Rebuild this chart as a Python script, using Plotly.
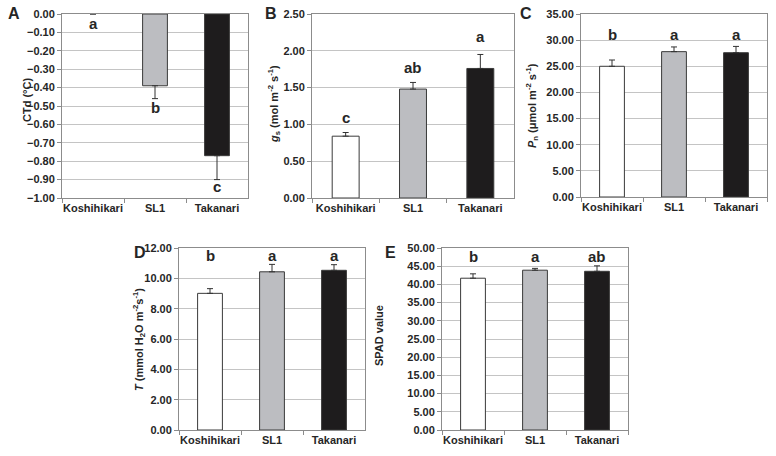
import plotly.graph_objects as go

W, H = 776, 456
categories = ["Koshihikari", "SL1", "Takanari"]
bar_colors = ["#ffffff", "#bcbdc1", "#1e1c1d"]

# Panel A: CTd
ctd_values = [0.0, -0.39, -0.77]
ctd_err = [0.0, 0.07, 0.13]
ctd_letters = ["a", "b", "c"]
ctd_letter_y = [-0.05, -0.51, -0.94]

# Panel B: gs
gs_values = [0.84, 1.48, 1.76]
gs_err = [0.05, 0.09, 0.19]
gs_letters = ["c", "ab", "a"]
gs_letter_y = [1.10, 1.77, 2.19]

# Panel C: Pn
pn_values = [25.0, 27.8, 27.6]
pn_err = [1.2, 0.9, 1.2]
pn_letters = ["b", "a", "a"]
pn_letter_y = [31.1, 31.1, 31.1]

# Panel D: T
t_values = [9.01, 10.43, 10.53]
t_err = [0.31, 0.49, 0.37]
t_letters = ["b", "a", "a"]
t_letter_y = [11.5, 11.5, 11.5]

# Panel E: SPAD
spad_values = [41.7, 43.9, 43.6]
spad_err = [1.2, 0.5, 1.5]
spad_letters = ["b", "a", "ab"]
spad_letter_y = [47.8, 47.8, 47.8]

FONT = "Liberation Sans, Arial, sans-serif"
TXT = "#262626"

panels = [
    dict(v=ctd_values, e=ctd_err, L=ctd_letters, ly=ctd_letter_y, rng=[-1.0, 0.0], dt=0.1,
         box=(62, 248, 14, 198), neg=True, tag="A", tagpos=(14, 14),
         title="CTd (°C)", tpos=(27, 100)),
    dict(v=gs_values, e=gs_err, L=gs_letters, ly=gs_letter_y, rng=[0, 2.5], dt=0.5,
         box=(312, 514, 14, 198), neg=False, tag="B", tagpos=(271, 14),
         title="<i>g</i><sub>s</sub> (mol m<sup>-2</sup> s<sup>-1</sup>)", tpos=(274, 104)),
    dict(v=pn_values, e=pn_err, L=pn_letters, ly=pn_letter_y, rng=[0, 35], dt=5,
         box=(581, 767, 14, 197), neg=False, tag="C", tagpos=(526, 14),
         title="<i>P</i><sub>n</sub> (μmol m<sup>-2</sup> s<sup>-1</sup>)", tpos=(532, 106)),
    dict(v=t_values, e=t_err, L=t_letters, ly=t_letter_y, rng=[0, 12], dt=2,
         box=(179, 365, 248, 430), neg=False, tag="D", tagpos=(140, 252),
         title="<i>T</i> (mmol H<sub>2</sub>O m<sup>-2</sup>s<sup>-1</sup>)", tpos=(139, 340)),
    dict(v=spad_values, e=spad_err, L=spad_letters, ly=spad_letter_y, rng=[0, 50], dt=5,
         box=(442, 628, 248, 430), neg=False, tag="E", tagpos=(390, 252),
         title="SPAD value", tpos=(379, 336)),
]


def px(x):
    return x / W


def py(y):
    return 1 - y / H


fig = go.Figure()
annotations = []
layout = {}

for i, p in enumerate(panels, start=1):
    sx = "" if i == 1 else str(i)
    xa, ya = "x" + sx, "y" + sx
    x0, x1, yt, yb = p["box"]
    if p["neg"]:
        err = dict(type="data", symmetric=False, array=[0, 0, 0], arrayminus=p["e"],
                   color="#333333", thickness=1, width=3)
        line_w = [0 if v == 0 else 1 for v in p["v"]]
    else:
        err = dict(type="data", symmetric=False, array=p["e"], arrayminus=[0, 0, 0],
                   color="#333333", thickness=1, width=3)
        line_w = [1, 1, 1]
    fig.add_trace(go.Bar(
        x=categories, y=p["v"], xaxis=xa, yaxis=ya, width=0.4,
        marker=dict(color=bar_colors, line=dict(color="#3a3a3a", width=line_w)),
        error_y=err, showlegend=False, hoverinfo="skip",
    ))
    layout["xaxis" + sx] = dict(
        domain=[px(x0), px(x1)], anchor=ya, type="category", automargin=False,
        showline=True, linecolor="#8c8c8c", linewidth=1, mirror=True,
        ticks="outside", ticklen=4, tickcolor="#8c8c8c", tickson="boundaries",
        tickangle=0,
        tickfont=dict(family=FONT, size=11, color=TXT, weight="bold"),
        showgrid=False, fixedrange=True,
    )
    layout["yaxis" + sx] = dict(
        domain=[py(yb), py(yt)], anchor=xa, range=p["rng"], automargin=False,
        dtick=p["dt"], tick0=0, tickformat=".2f", ticklabeloverflow="allow",
        showline=True, linecolor="#8c8c8c", linewidth=1, mirror=True,
        ticks="outside", ticklen=4, tickcolor="#8c8c8c",
        showgrid=True, gridcolor="#c4c4c4", gridwidth=1, zeroline=False,
        tickfont=dict(family=FONT, size=11, color=TXT, weight="bold"),
        fixedrange=True,
    )
    for c, lt, ly in zip(categories, p["L"], p["ly"]):
        annotations.append(dict(x=c, y=ly, xref=xa, yref=ya, text=lt, showarrow=False,
                                font=dict(family=FONT, size=15, color=TXT, weight="bold")))
    tx, ty = p["tagpos"]
    annotations.append(dict(x=px(tx), y=py(ty), xref="paper", yref="paper",
                            text=p["tag"], showarrow=False, xanchor="center", yanchor="middle",
                            font=dict(family=FONT, size=16, color=TXT, weight="bold")))
    ax_, ay_ = p["tpos"]
    annotations.append(dict(x=px(ax_), y=py(ay_), xref="paper", yref="paper",
                            text=p["title"], showarrow=False, textangle=-90,
                            xanchor="center", yanchor="middle",
                            font=dict(family=FONT, size=11, color=TXT, weight="bold")))

fig.update_layout(
    width=W, height=H, margin=dict(l=0, r=0, t=0, b=0, autoexpand=False),
    paper_bgcolor="white", plot_bgcolor="white", hovermode=False,
    annotations=annotations, bargap=0.6, **layout,
)

fig.write_html("out.html", config={"displayModeBar": False, "staticPlot": True},
               post_script="document.body.style.margin='0';")
